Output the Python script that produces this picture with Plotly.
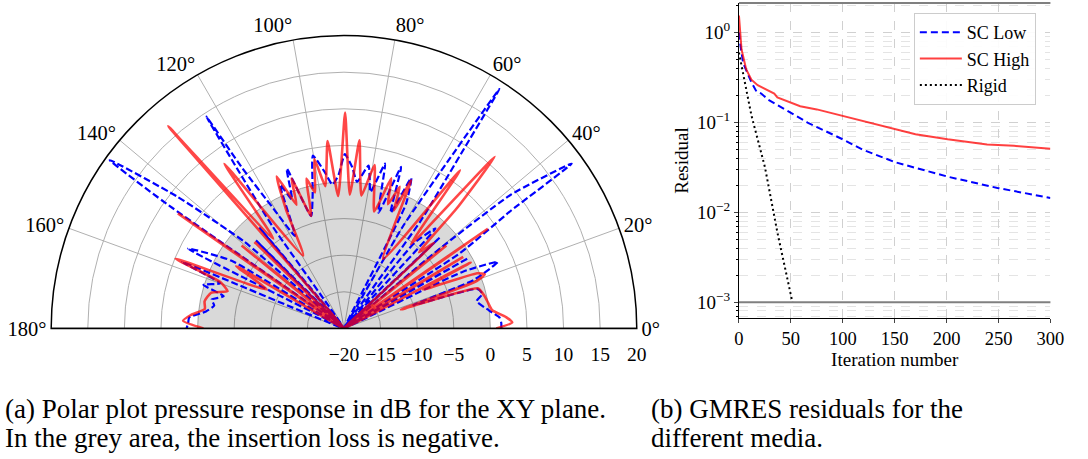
import plotly.graph_objects as go

# ---------------- Polar data (dB, XY plane) ----------------
theta_high = [0, 2, 4, 7, 10, 13, 16.7, 18.3, 19.5, 21, 22.5, 26.2, 27.5, 28.5, 31, 32.5, 34.7, 36.5,
              39, 41, 43.5, 45.4, 46.8, 48.7, 51.5, 53.7, 60.6, 65.6, 67, 68.5, 70.5, 72.5, 75.5,
              79.4, 82.5, 85.3, 87.5, 89.7, 92.5, 95, 97.5, 99.9, 102, 104.1, 106.3, 109.3, 111,
              113.9, 116, 119.3, 126, 128.2, 131, 133, 136, 138, 141, 143, 145.3, 147.5, 150,
              153.3, 157.5, 159.5, 162.3, 165, 169, 172, 175, 177.3, 180]
r_high = [0.8, 3.0, 2.2, 0.4, 0.0, -0.3, -0.9, -11.8, -1.0, 0.6, -0.3, -8.0, -0.5, -20, -1.0, -20, 3.9, -20,
          -2.0, -20, -3.0, -5.4, 2.6, 11.2, -5.3, 6.8, -9.1, 2.2, -2.5, 0.8, -2.0, 1.5, -3.5,
          2.7, -1.7, 5.8, -1.7, 9.5, -1.9, 5.7, -0.4, 3.5, -1.0, 1.1, -4.0, 1.7, -1.9,
          2.7, -2.0, -8.6, 7.8, -4.4, 16.6, -20, -3.0, -20, -2.0, -20, 7.6, -20, -3.0,
          -8.2, 4.9, -2.0, -3.3, -1.2, -0.6, -0.8, 1.0, 2.0, -0.8]

theta_low = [0, 2, 4, 7, 11.6, 14, 16.5, 18.5, 20.5, 23.4, 25.5, 27.5, 29.5, 31, 33, 35.2, 35.9, 38.7,
             39.8, 41.5, 43.5, 45.5, 47.5, 50.5, 52, 54.5, 56.3, 57, 58, 60, 62, 63.5, 65.9, 68,
             70.5, 73.4, 76, 79, 81.4, 84.9, 87, 89.7, 92, 94.6, 97, 100.2, 103, 106.3, 109.7,
             112, 114, 117.9, 120.5, 122.4, 123, 123.8, 125, 127, 130, 132, 135, 137, 139,
             141.7, 144.3, 144.9, 146, 149, 152.9, 155, 157.7, 160, 162.8, 165, 167.7, 170,
             173, 176, 178, 180]
r_low = [1.5, 1.5, 1.3, 0.0, -1.5, -0.5, -1.0, -10.0, -1.0, 2.9, -2.0, -20, -0.5, -20, -1.0, 8.0, 18.4, 9.2,
         -3.7, -20, -2.0, -20, -1.5, -4.8, -20, -2.0, 10.0, 19.0, 8.0, -4.0, -20, -1.0, 2.5, -3.0,
         3.4, -3.5, 3.2, -1.0, 2.5, 0.1, 2.0, 3.8, 1.0, -0.3, 1.5, 4.0, -1.0, -4.0, 3.2,
         -1.0, 1.5, -5.7, -1.0, 6.0, 14.5, 6.0, -3.0, -20, -2.0, -20, -3.0, -20, -2.0,
         9.1, 19.4, 10.0, -20, -2.0, 3.9, -20, 3.9, -2.0, 0.1, -3.0, -1.5, -2.0,
         -1.0, 1.2, 1.3, 1.5]

radial_ticks = [-20, -15, -10, -5, 0, 5, 10, 15, 20]
angular_ticks = [0, 20, 40, 60, 80, 100, 120, 140, 160, 180]

# ---------------- GMRES residual data ----------------
iter_low = [0, 1, 4, 12, 17, 21.5, 28, 50, 66, 100, 119, 151, 201, 249, 300]
res_low = [1.0, 0.78, 0.46, 0.28, 0.22, 0.21, 0.18, 0.128, 0.10, 0.065, 0.050, 0.036, 0.025, 0.0187, 0.0145]
iter_high = [0, 2.5, 7, 12, 18, 34, 37, 50, 59, 75, 100, 132, 170, 201, 239, 265, 300]
res_high = [1.55, 0.65, 0.39, 0.30, 0.26, 0.21, 0.19, 0.166, 0.152, 0.14, 0.118, 0.095, 0.074, 0.065, 0.057, 0.055, 0.051]
iter_rigid = [0, 12, 25, 37, 51.5]
res_rigid = [0.6, 0.12, 0.032, 0.006, 0.001]
tolerance = 1e-3

FONT = "Liberation Serif"

fig = go.Figure()

# grey area (negative insertion loss, r <= 0 dB)
fig.add_trace(go.Barpolar(r=[20], base=[-20], theta=[90], width=[180],
                          marker=dict(color="rgba(0,0,0,0.15)", line=dict(width=0)),
                          showlegend=False, hoverinfo="skip", subplot="polar"))
fig.add_trace(go.Scatterpolar(r=r_low, theta=theta_low, mode="lines", subplot="polar",
                              line=dict(color="#0000ff", width=2.2, dash="7px,3px", shape="spline", smoothing=0.5),
                              showlegend=False, hoverinfo="skip"))
fig.add_trace(go.Scatterpolar(r=r_high, theta=theta_high, mode="lines", subplot="polar",
                              line=dict(color="rgba(255,0,0,0.72)", width=2.6, shape="spline", smoothing=0.5),
                              showlegend=False, hoverinfo="skip"))
# bottom edge of the half-disc
fig.add_trace(go.Scatterpolar(r=[20, -20, 20], theta=[180, 180, 0], mode="lines", subplot="polar",
                              line=dict(color="black", width=1.5), showlegend=False, hoverinfo="skip"))

# residual curves
fig.add_trace(go.Scatter(x=iter_low, y=res_low, mode="lines", name="SC Low",
                         line=dict(color="#0000ff", width=2, dash="7px,4px")))
fig.add_trace(go.Scatter(x=iter_high, y=res_high, mode="lines", name="SC High",
                         line=dict(color="rgba(255,0,0,0.75)", width=2)))
fig.add_trace(go.Scatter(x=iter_rigid, y=res_rigid, mode="lines", name="Rigid",
                         line=dict(color="black", width=2, dash="2px,3px")))

minor_vals = [k * 10.0 ** e for e in range(-4, 1) for k in range(2, 10)]

fig.update_layout(
    width=1088, height=459, margin=dict(l=0, r=0, t=0, b=0),
    paper_bgcolor="white", plot_bgcolor="white",
    font=dict(family=FONT, size=18, color="black"),
    polar=dict(
        domain=dict(x=[47 / 1088, 643 / 1088], y=[128 / 459, 426 / 459]),
        sector=[0, 180], bgcolor="white",
        radialaxis=dict(range=[-20, 20], tickvals=radial_ticks, angle=0, side="clockwise",
                        showline=False, ticks="outside", ticklen=9, tickcolor="rgba(0,0,0,0)",
                        gridcolor="#b0b0b0", gridwidth=1,
                        tickfont=dict(family=FONT, size=19.5)),
        angularaxis=dict(tickvals=angular_ticks, ticktext=[f"{a}°" for a in angular_ticks],
                         direction="counterclockwise", rotation=0, showline=True,
                         linecolor="black", linewidth=1.5, ticks="", gridcolor="#b0b0b0",
                         gridwidth=1, tickfont=dict(family=FONT, size=20.5)),
    ),
    xaxis=dict(domain=[747 / 1088, 1064 / 1088], range=[0, 300], tickvals=[0, 50, 100, 150, 200, 250, 300],
               showline=True, linecolor="black", linewidth=1, ticks="outside", ticklen=4,
               showgrid=True, gridcolor="#d0d0d0", griddash="dash", gridwidth=1, zeroline=False,
               title=dict(text="Iteration number", font=dict(family=FONT, size=19), standoff=1),
               tickfont=dict(family=FONT, size=18.5), anchor="y"),
    yaxis=dict(domain=[141 / 459, 456 / 459], type="log", range=[-3.175, 0.33],
               tickvals=[1e-3, 1e-2, 1e-1, 1],
               ticktext=["10<sup>−3</sup>", "10<sup>−2</sup>", "10<sup>−1</sup>", "10<sup>0</sup>"],
               showline=True, linecolor="black", linewidth=1, ticks="outside", ticklen=4,
               showgrid=True, gridcolor="#d0d0d0", griddash="dash", gridwidth=1, zeroline=False,
               minor=dict(tickvals=minor_vals, showgrid=True, gridcolor="#e4e4e4", griddash="dash",
                          ticks="outside", ticklen=2, tickcolor="black"),
               title=dict(text="Residual", font=dict(family=FONT, size=19), standoff=3),
               tickfont=dict(family=FONT, size=19), anchor="x"),
    legend=dict(x=925 / 1088, y=1 - 13 / 459, xanchor="left", yanchor="top",
                bgcolor="rgba(255,255,255,0.9)", bordercolor="#cccccc", borderwidth=1,
                font=dict(family=FONT, size=18), itemwidth=42, tracegroupgap=2),
    shapes=[
        dict(type="line", xref="x domain", yref="y", x0=0, x1=1, y0=tolerance, y1=tolerance,
             line=dict(color="#808080", width=2)),
        dict(type="line", xref="x domain", yref="y domain", x0=0, x1=1, y0=1, y1=1,
             line=dict(color="#808080", width=2)),
    ],
    annotations=[
        dict(text="(a) Polar plot pressure response in dB for the XY plane.", x=-2 / 1088, y=1 - 409 / 459,
             xref="paper", yref="paper", xanchor="left", yanchor="middle", showarrow=False,
             font=dict(family=FONT, size=27)),
        dict(text="In the grey area, the insertion loss is negative.", x=-2 / 1088, y=1 - 438 / 459,
             xref="paper", yref="paper", xanchor="left", yanchor="middle", showarrow=False,
             font=dict(family=FONT, size=27)),
        dict(text="(b) GMRES residuals for the", x=655 / 1088, y=1 - 409 / 459,
             xref="paper", yref="paper", xanchor="left", yanchor="middle", showarrow=False,
             font=dict(family=FONT, size=27)),
        dict(text="different media.", x=655 / 1088, y=1 - 438 / 459,
             xref="paper", yref="paper", xanchor="left", yanchor="middle", showarrow=False,
             font=dict(family=FONT, size=27)),
    ],
)

fig.write_html("out.html")
